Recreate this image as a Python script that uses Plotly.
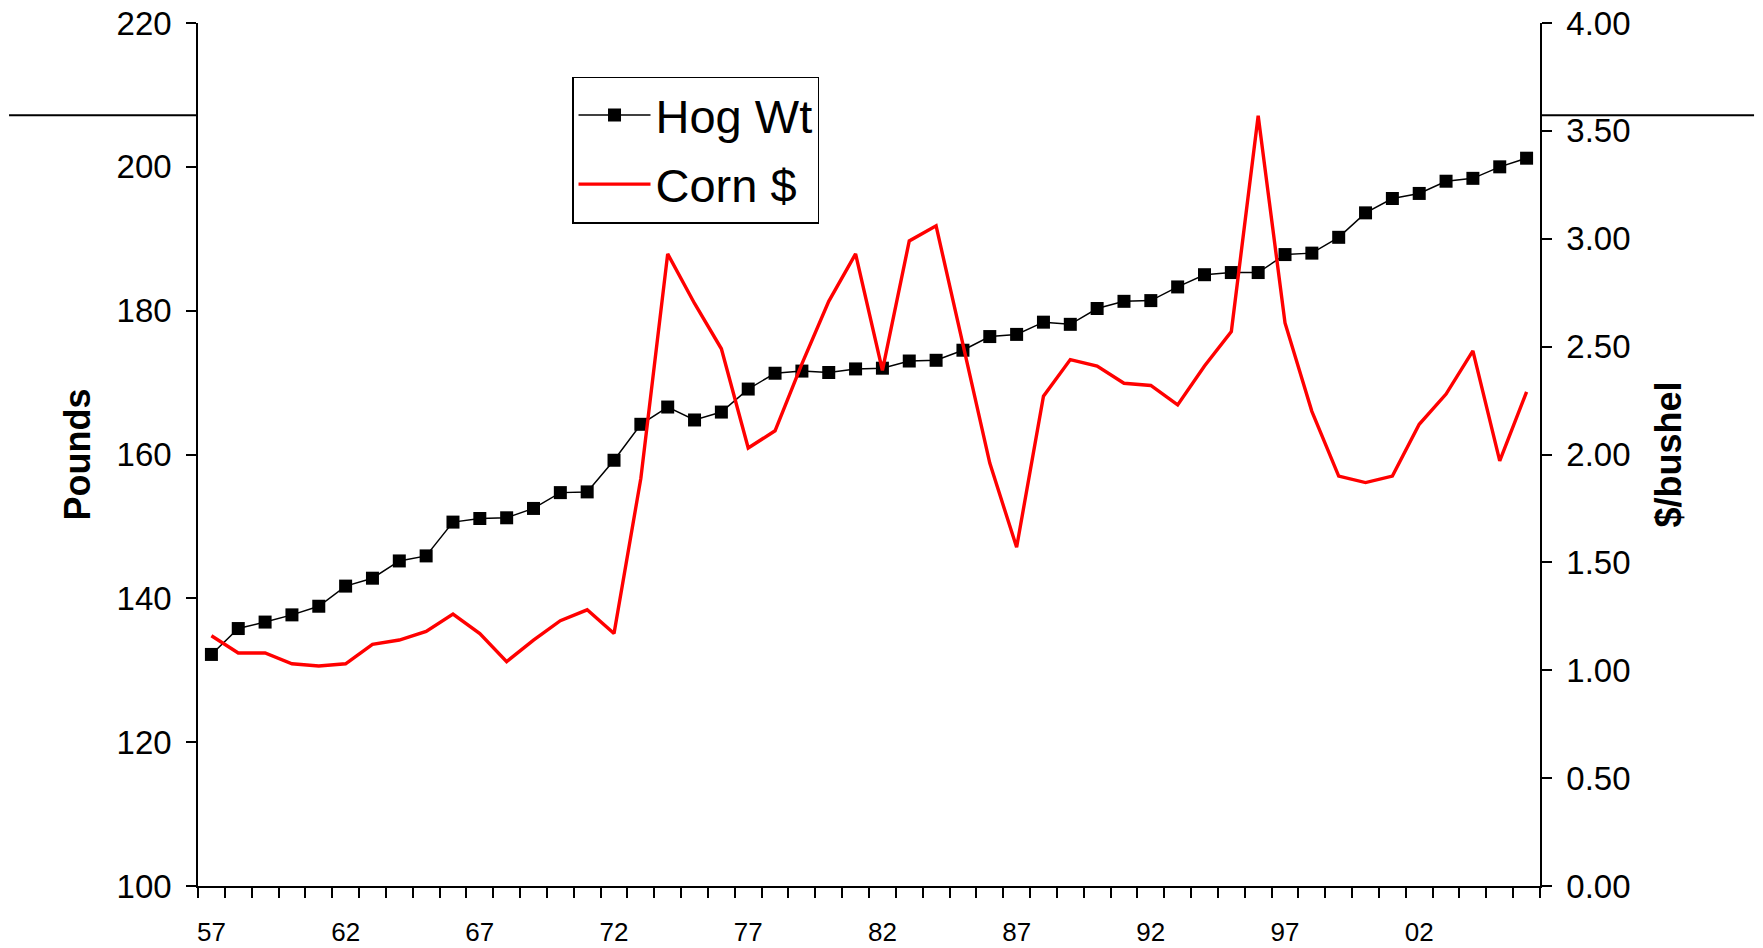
import plotly.graph_objects as go

# ---- data ----
years = list(range(1957, 2007))
hog_wt = [132.2, 135.8, 136.7, 137.7, 138.9, 141.7, 142.8, 145.2, 145.9, 150.6,
          151.1, 151.2, 152.5, 154.7, 154.8, 159.2, 164.2, 166.6, 164.8, 165.9,
          169.1, 171.3, 171.6, 171.4, 171.9, 172.0, 173.0, 173.1, 174.5, 176.4,
          176.7, 178.4, 178.1, 180.3, 181.3, 181.4, 183.3, 185.0, 185.3, 185.3,
          187.8, 188.0, 190.2, 193.6, 195.6, 196.3, 198.0, 198.4, 200.0, 201.2]
corn_price = [1.16, 1.08, 1.08, 1.03, 1.02, 1.03, 1.12, 1.14, 1.18, 1.26,
              1.17, 1.04, 1.14, 1.23, 1.28, 1.17, 1.89, 2.93, 2.70, 2.49,
              2.03, 2.11, 2.42, 2.71, 2.93, 2.39, 2.99, 3.06, 2.51, 1.96,
              1.57, 2.27, 2.44, 2.41, 2.33, 2.32, 2.23, 2.41, 2.57, 3.57,
              2.61, 2.20, 1.90, 1.87, 1.90, 2.14, 2.28, 2.48, 1.97, 2.29]
x_label_years = [1957, 1962, 1967, 1972, 1977, 1982, 1987, 1992, 1997, 2002]
x_labels = ["57", "62", "67", "72", "77", "82", "87", "92", "97", "02"]
left_ticks = [100, 120, 140, 160, 180, 200, 220]
right_ticks = [0.0, 0.5, 1.0, 1.5, 2.0, 2.5, 3.0, 3.5, 4.0]

boundaries = [y - 0.5 for y in years] + [years[-1] + 0.5]
x_range = [boundaries[0], boundaries[-1]]

FONT = "Liberation Sans, Arial, sans-serif"
TICKLEN = 10
TICKW = 1.5

fig = go.Figure()
fig.add_trace(go.Scatter(
    x=years, y=hog_wt, name="Hog Wt", mode="lines+markers",
    line=dict(color="black", width=1.5),
    marker=dict(symbol="square", size=13, color="black"),
    xaxis="x", yaxis="y", legendgroup="a"))
fig.add_trace(go.Scatter(
    x=years, y=corn_price, name="Corn $", mode="lines",
    line=dict(color="#ff0000", width=3.4),
    xaxis="x", yaxis="y2", legendgroup="b"))

axis_common = dict(showgrid=False, zeroline=False, tickcolor="black",
                   tickwidth=TICKW, ticklen=TICKLEN, automargin=False)

fig.update_layout(
    width=1763, height=948,
    margin=dict(l=198, r=223, t=22.5, b=62, autoexpand=False),
    paper_bgcolor="white", plot_bgcolor="white",
    font=dict(family=FONT, color="black"),
    showlegend=True,
    legend=dict(x=0.2787, y=0.938, xanchor="left", yanchor="top",
                bgcolor="white", bordercolor="black", borderwidth=1.5,
                font=dict(size=47, family=FONT), tracegroupgap=5,
                itemwidth=72),
    xaxis=dict(range=x_range, tickmode="array", tickvals=x_label_years,
               ticktext=x_labels, ticks="", showline=True, linecolor="black",
               linewidth=2, tickfont=dict(size=26), ticklabelstandoff=22,
               ticklabeloverflow="allow",
               minor=dict(tickmode="array", tickvals=boundaries, ticks="outside",
                          ticklen=TICKLEN, tickwidth=TICKW, tickcolor="black"),
               showgrid=False, zeroline=False, anchor="y", automargin=False),
    xaxis3=dict(range=x_range, overlaying="x", anchor="y", side="bottom",
                tickmode="array", tickvals=boundaries, showticklabels=False,
                ticks="inside", showline=False, **axis_common),
    yaxis=dict(range=[100, 220], tickmode="array", tickvals=left_ticks,
               ticks="outside", showline=True, linecolor="black", linewidth=1.5,
               tickfont=dict(size=33), ticklabelstandoff=8,
               ticklabeloverflow="allow",
               title=dict(text="<b>Pounds</b>", font=dict(size=36), standoff=15),
               anchor="x", **axis_common),
    yaxis3=dict(range=[100, 220], overlaying="y", anchor="x", side="left",
                tickmode="array", tickvals=left_ticks, ticks="inside",
                showticklabels=False, showline=False, **axis_common),
    yaxis2=dict(range=[0, 4], overlaying="y", anchor="x", side="right",
                tickmode="array", tickvals=right_ticks, tickformat=".2f",
                ticks="outside", showline=True, linecolor="black", linewidth=1.5,
                tickfont=dict(size=33), ticklabelstandoff=8,
                ticklabeloverflow="allow",
                title=dict(text="<b>$/bushel</b>", font=dict(size=36), standoff=26),
                **axis_common),
    yaxis4=dict(range=[0, 4], overlaying="y", anchor="x", side="right",
                tickmode="array", tickvals=right_ticks, ticks="inside",
                showticklabels=False, showline=False, **axis_common),
    shapes=[
        dict(type="line", xref="paper", yref="paper", x0=-0.1408, x1=0.0,
             y0=0.8932, y1=0.8932, line=dict(color="black", width=2)),
        dict(type="line", xref="paper", yref="paper", x0=1.0, x1=1.1595,
             y0=0.8932, y1=0.8932, line=dict(color="black", width=2)),
    ],
)

fig.write_html("out.html",
               config={"displayModeBar": False},
               post_script="document.body.style.margin='0';")
